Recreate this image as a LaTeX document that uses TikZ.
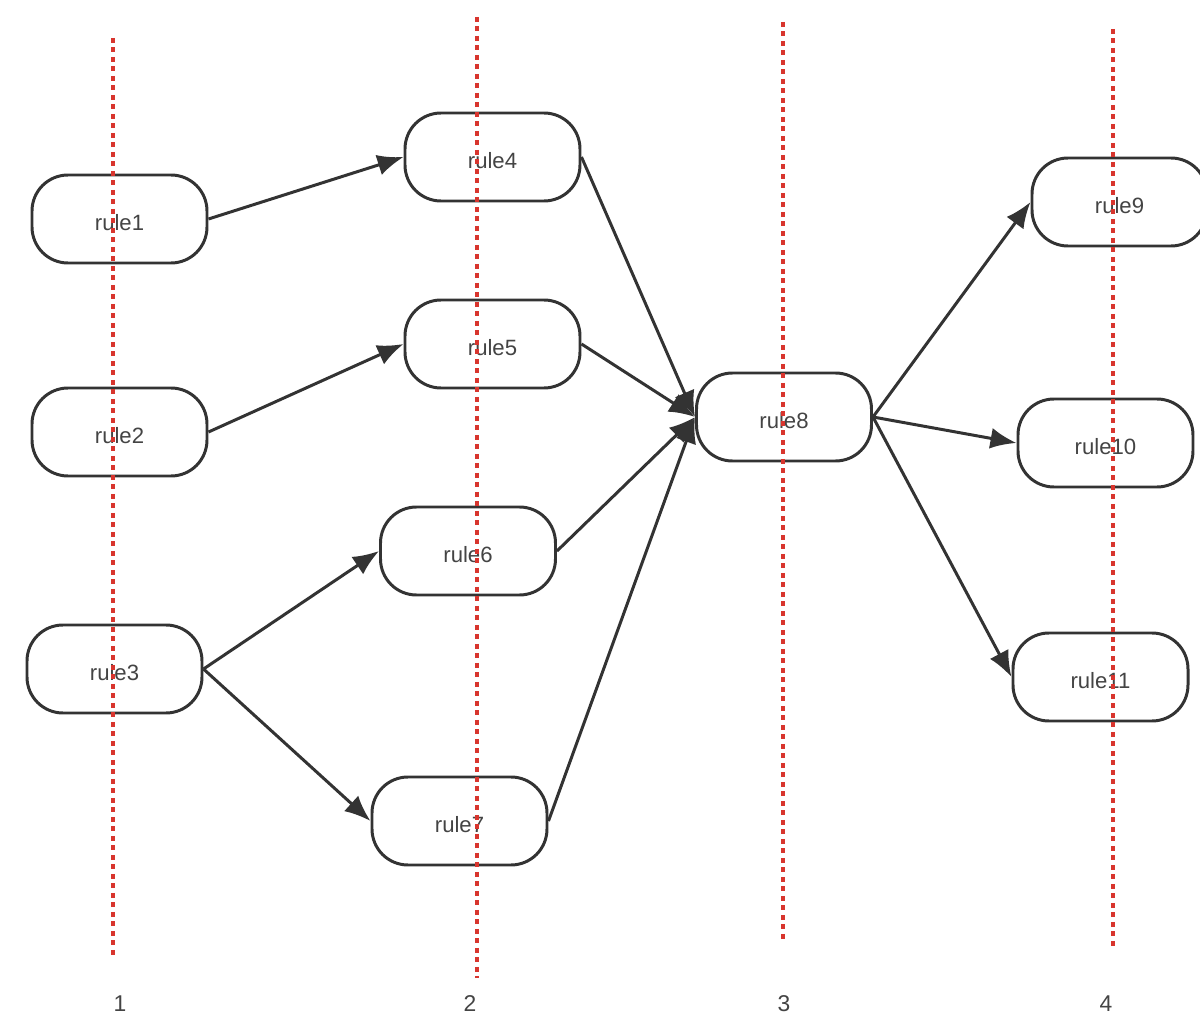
\documentclass[tikz,border=0pt]{standalone}
\usepackage{fontspec}
\setmainfont{Liberation Sans}
\usetikzlibrary{arrows.meta}
\definecolor{edgegray}{HTML}{333333}
\definecolor{textgray}{HTML}{444444}
\definecolor{guidered}{HTML}{D8352E}
\tikzset{
  rule/.style={draw=edgegray, line width=0.85pt, fill=white, rounded corners=0.36cm,
    minimum width=1.75cm, minimum height=0.88cm, inner sep=0pt,
    text height=6.3pt, text depth=0pt,
    text=textgray, font=\fontsize{6.3}{7}\selectfont},
  flow/.style={draw=edgegray, line width=0.85pt, -{Latex[length=0.26cm,width=0.21cm]}},
  guide/.style={draw=guidered, line width=0.95pt, dash pattern=on 0.05cm off 0.045cm},
  stage/.style={text=textgray, font=\fontsize{6.5}{7}\selectfont}
}
\begin{document}
\begin{tikzpicture}
        \useasboundingbox (0,0) rectangle (12,-10.25);
              \node[rule] (r1) at (1.195,-2.19) {rule1};
              \node[rule] (r2) at (1.195,-4.32) {rule2};
              \node[rule] (r3) at (1.145,-6.69) {rule3};
              \node[rule] (r4) at (4.925,-1.57) {rule4};
              \node[rule] (r5) at (4.925,-3.44) {rule5};
              \node[rule] (r6) at (4.68,-5.51) {rule6};
              \node[rule] (r7) at (4.595,-8.21) {rule7};
              \node[rule] (r8) at (7.84,-4.17) {rule8};
              \node[rule] (r9) at (11.195,-2.02) {rule9};
              \node[rule] (r10) at (11.055,-4.43) {rule10};
              \node[rule] (r11) at (11.005,-6.77) {rule11};
              \draw[flow] (r1.east) -- (r4.west);
              \draw[flow] (r2.east) -- (r5.west);
              \draw[flow] (r3.east) -- (r6.west);
              \draw[flow] (r3.east) -- (r7.west);
              \draw[flow] (r4.east) -- (r8.west);
              \draw[flow] (r5.east) -- (r8.west);
              \draw[flow] (r6.east) -- (r8.west);
              \draw[flow] (r7.east) -- (r8.west);
              \draw[flow] (r8.east) -- (r9.west);
              \draw[flow] (r8.east) -- (r10.west);
              \draw[flow] (r8.east) -- (r11.west);
              \coordinate (g1a) at (1.13,-0.38);  \coordinate (g1b) at (1.13,-9.58);
              \coordinate (g2a) at (4.77,-0.17);  \coordinate (g2b) at (4.77,-9.78);
              \coordinate (g3a) at (7.83,-0.22);  \coordinate (g3b) at (7.83,-9.42);
              \coordinate (g4a) at (11.13,-0.29); \coordinate (g4b) at (11.13,-9.48);
              \draw[guide] (g1a) -- (g1b);
              \draw[guide] (g2a) -- (g2b);
              \draw[guide] (g3a) -- (g3b);
              \draw[guide] (g4a) -- (g4b);
              \node[stage] (s1) at (1.2,-10.04) {1};
              \node[stage] (s2) at (4.7,-10.04) {2};
              \node[stage] (s3) at (7.84,-10.04) {3};
              \node[stage] (s4) at (11.06,-10.04) {4};
        \end{tikzpicture}
\end{document}
